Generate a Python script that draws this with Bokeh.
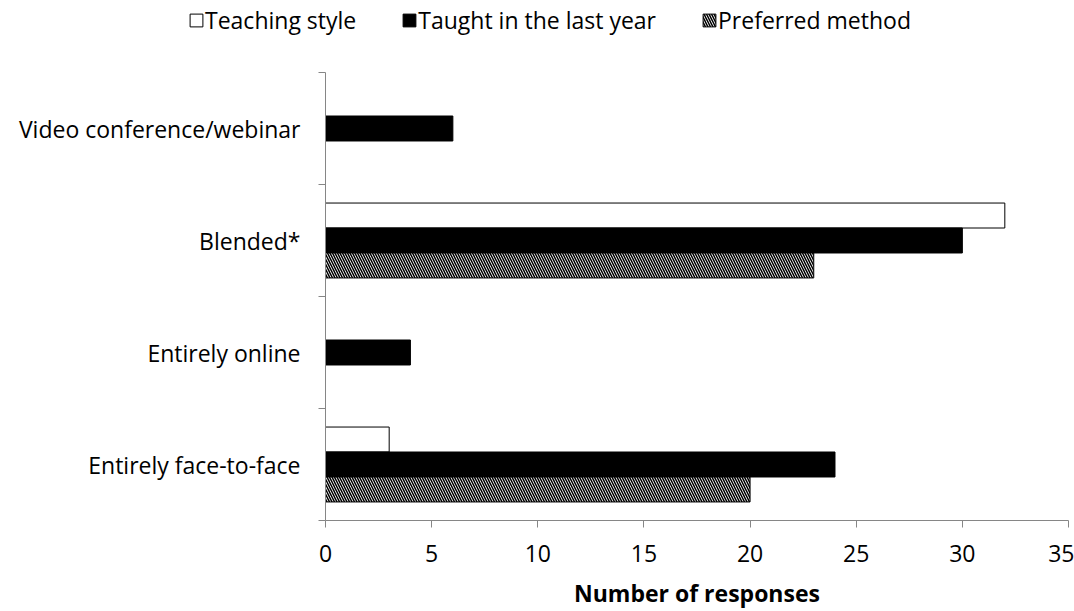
from bokeh.plotting import figure
from bokeh.layouts import column
from bokeh.models import FixedTicker, Legend, LegendItem, Range1d
from bokeh.embed import file_html
from bokeh.resources import INLINE
from bokeh.transform import dodge

categories = ["Entirely face-to-face", "Entirely online", "Blended*", "Video conference/webinar"]
series_names = ["Teaching style", "Taught in the last year", "Preferred method"]
teaching_style = [3, 0, 32, 0]
taught_last_year = [24, 4, 30, 6]
preferred_method = [20, 0, 23, 0]
x_ticks = [0, 5, 10, 15, 20, 25, 30, 35]

FONT = "Open Sans"
FS = "23px"
AX = "#868686"

centers = [i + 0.5 for i in range(len(categories))]
boundaries = [i for i in range(len(categories) + 1)]

styles = [dict(fill_color="white", line_color="black", line_width=1),
          dict(fill_color="black", line_color="black", line_width=1),
          dict(fill_color="white", line_color="black", line_width=1,
               hatch_pattern="left_diagonal_line", hatch_color="black",
               hatch_scale=5, hatch_weight=1.5)]
value_cols = ["ts", "tl", "pm"]

p = figure(width=1074, height=539, output_backend="svg", toolbar_location=None,
           x_range=Range1d(0, 35), y_range=Range1d(0, len(categories)),
           min_border_left=325, min_border_right=6, min_border_top=0, min_border_bottom=89)
p.outline_line_color = None
p.grid.visible = False

bw = 0.223
src = dict(y=centers, ts=teaching_style, tl=taught_last_year, pm=preferred_method)
offsets = [bw, 0, -bw]
for col, off, st in zip(value_cols, offsets, styles):
    p.hbar(y=dodge("y", off, range=p.y_range), right=col, left=0, height=bw, source=src, **st)

# x axis
xa = p.xaxis[0]
xa.ticker = FixedTicker(ticks=x_ticks, minor_ticks=[])
xa.axis_line_color = AX
xa.major_tick_line_color = AX
xa.major_tick_in = 0
xa.major_tick_out = 7
xa.minor_tick_line_color = None
xa.major_label_text_font = FONT
xa.major_label_text_font_size = FS
xa.major_label_text_color = "black"
xa.major_label_standoff = 17
xa.axis_label = "Number of responses"
xa.axis_label_text_font = FONT
xa.axis_label_text_font_size = FS
xa.axis_label_text_font_style = "bold"
xa.axis_label_text_color = "black"
xa.axis_label_standoff = 12

# y axis
ya = p.yaxis[0]
ya.ticker = FixedTicker(ticks=centers, minor_ticks=boundaries)
ya.major_label_overrides = {c: lab for c, lab in zip(centers, categories)}
ya.axis_line_color = AX
ya.major_tick_line_color = None
ya.major_tick_in = 0
ya.major_tick_out = 0
ya.minor_tick_line_color = AX
ya.minor_tick_in = 0
ya.minor_tick_out = 7
ya.major_label_text_font = FONT
ya.major_label_text_font_size = FS
ya.major_label_text_color = "black"
ya.major_label_standoff = 18

# legend strip above the chart (its bars sit outside its visible range)
leg = figure(width=1074, height=72, output_backend="svg", toolbar_location=None,
             x_range=Range1d(0, 35), y_range=Range1d(100, 101),
             x_axis_type=None, y_axis_type=None,
             min_border_left=0, min_border_right=0, min_border_top=0, min_border_bottom=0)
leg.frame_align = False
leg.outline_line_color = None
leg.grid.visible = False
lr = [leg.hbar(y="y", right=col, left=0, height=bw, source=dict(src), **st)
      for col, st in zip(value_cols, styles)]

legend = Legend(items=[LegendItem(label=n, renderers=[r]) for n, r in zip(series_names, lr)],
                orientation="horizontal", location=(188, 36),
                label_text_font=FONT, label_text_font_size=FS, label_text_color="black",
                glyph_width=16, glyph_height=16, label_standoff=1, spacing=45,
                border_line_color=None, background_fill_alpha=0, padding=0, margin=0)
leg.add_layout(legend, "center")

open("out.html", "w").write(file_html(column(leg, p), INLINE))
